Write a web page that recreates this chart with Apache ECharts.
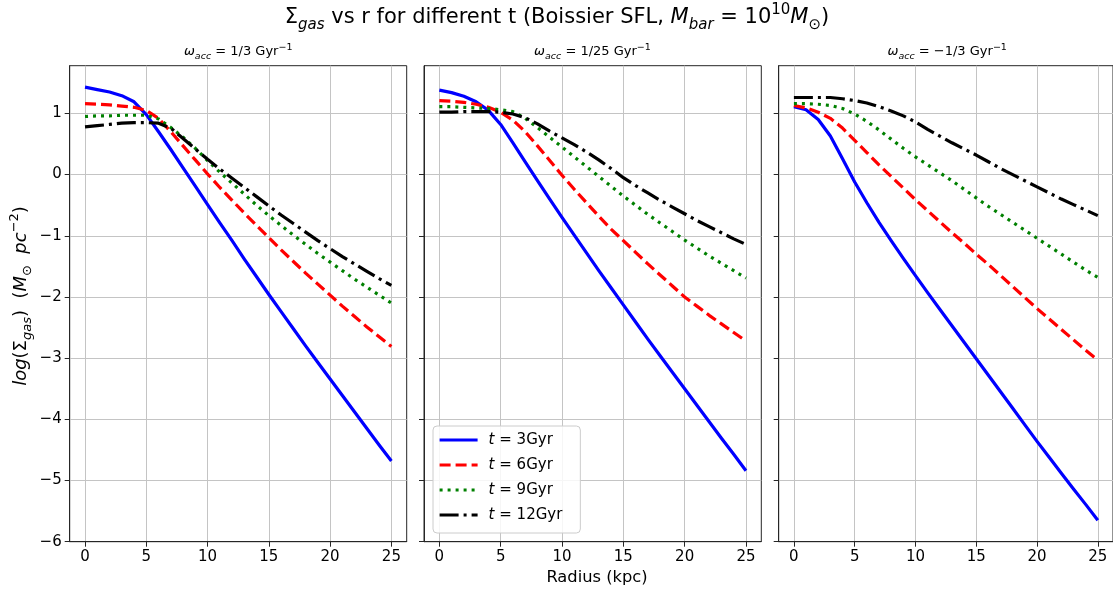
<!DOCTYPE html>
<html><head><meta charset="utf-8">
<script src="https://cdn.jsdelivr.net/npm/echarts@6/dist/echarts.min.js"></script>
<style>html,body{margin:0;padding:0;background:#fff}#c{width:1113px;height:593px}</style>
</head><body><div id="c"></div>
<script>
const radius = [0,1,2,3,4,5,6,7,8,9,10,11,12,13,14,15,16,17,18,19,20,21,22,23,24,25];
const xTicks = [0,5,10,15,20,25];
const yTicks = [-6,-5,-4,-3,-2,-1,0,1];
const seriesNames = ['t = 3Gyr','t = 6Gyr','t = 9Gyr','t = 12Gyr'];

// panel 1: omega_acc = 1/3 Gyr^-1
const p1_t3  = [1.43,1.39,1.35,1.29,1.19,0.98,0.70,0.41,0.11,-0.19,-0.49,-0.79,-1.08,-1.38,-1.67,-1.96,-2.24,-2.52,-2.80,-3.07,-3.34,-3.61,-3.88,-4.15,-4.42,-4.68];
const p1_t6  = [1.16,1.15,1.14,1.12,1.10,1.05,0.92,0.70,0.47,0.24,0.01,-0.21,-0.42,-0.63,-0.83,-1.03,-1.23,-1.42,-1.61,-1.79,-1.97,-2.15,-2.32,-2.49,-2.65,-2.81];
const p1_t9  = [0.95,0.96,0.96,0.97,0.97,0.97,0.91,0.77,0.61,0.43,0.23,0.04,-0.14,-0.32,-0.50,-0.67,-0.83,-0.99,-1.14,-1.29,-1.43,-1.57,-1.71,-1.84,-1.97,-2.10];
const p1_t12 = [0.78,0.80,0.82,0.84,0.85,0.85,0.84,0.76,0.59,0.42,0.25,0.09,-0.06,-0.21,-0.36,-0.51,-0.66,-0.80,-0.94,-1.08,-1.21,-1.34,-1.46,-1.58,-1.70,-1.81];

// panel 2: omega_acc = 1/25 Gyr^-1
const p2_t3  = [1.38,1.34,1.28,1.19,1.05,0.82,0.52,0.21,-0.10,-0.40,-0.70,-0.99,-1.28,-1.57,-1.85,-2.13,-2.41,-2.69,-2.96,-3.23,-3.50,-3.77,-4.04,-4.31,-4.57,-4.84];
const p2_t6  = [1.21,1.20,1.18,1.15,1.10,1.02,0.89,0.70,0.47,0.23,-0.01,-0.24,-0.46,-0.68,-0.89,-1.08,-1.27,-1.46,-1.64,-1.82,-2.00,-2.15,-2.30,-2.44,-2.58,-2.72];
const p2_t9  = [1.11,1.11,1.10,1.09,1.08,1.06,1.03,0.92,0.77,0.61,0.45,0.29,0.13,-0.03,-0.19,-0.35,-0.50,-0.65,-0.79,-0.93,-1.07,-1.20,-1.33,-1.45,-1.57,-1.69];
const p2_t12 = [1.02,1.02,1.03,1.03,1.03,1.02,0.99,0.93,0.83,0.71,0.60,0.49,0.37,0.24,0.10,-0.05,-0.18,-0.30,-0.42,-0.53,-0.64,-0.75,-0.85,-0.95,-1.05,-1.14];

// panel 3: omega_acc = -1/3 Gyr^-1
const p3_t3  = [1.11,1.06,0.90,0.63,0.26,-0.12,-0.46,-0.78,-1.08,-1.37,-1.65,-1.93,-2.20,-2.47,-2.74,-3.01,-3.28,-3.55,-3.82,-4.09,-4.36,-4.62,-4.88,-5.14,-5.39,-5.65];
const p3_t6  = [1.13,1.09,1.02,0.92,0.76,0.56,0.36,0.16,-0.03,-0.22,-0.41,-0.59,-0.77,-0.95,-1.12,-1.30,-1.47,-1.65,-1.83,-2.01,-2.19,-2.36,-2.53,-2.70,-2.87,-3.03];
const p3_t9  = [1.16,1.16,1.15,1.13,1.08,0.99,0.87,0.73,0.58,0.43,0.29,0.16,0.03,-0.10,-0.24,-0.38,-0.52,-0.65,-0.78,-0.91,-1.04,-1.17,-1.30,-1.43,-1.56,-1.68];
const p3_t12 = [1.26,1.26,1.26,1.26,1.24,1.21,1.17,1.11,1.04,0.96,0.86,0.74,0.63,0.52,0.42,0.32,0.21,0.10,0.00,-0.10,-0.20,-0.30,-0.40,-0.49,-0.58,-0.67];

const panels = [
  [p1_t3, p1_t6, p1_t9, p1_t12],
  [p2_t3, p2_t6, p2_t9, p2_t12],
  [p3_t3, p3_t6, p3_t9, p3_t12]
];
const panelTitles = [
  '{iw|ω}{isub|acc} = 1/3 Gyr{sup|−1}',
  '{iw|ω}{isub|acc} = 1/25 Gyr{sup|−1}',
  '{iw|ω}{isub|acc} = −1/3 Gyr{sup|−1}'
];

const FONT = 'DejaVu Sans';
const colors = ['#0000ff','#ff0000','#008000','#000000'];
const dashes = ['solid',[11,5],[3,5],[19,5,3,5]];
const gridBox = [
  {left:69.7, width:337},
  {left:424, width:337.3},
  {left:778.7, width:337}
];
const fmt = v => String(v).replace('-', '\u2212');

const grids = [], xAxes = [], yAxes = [], series = [];
gridBox.forEach((g, i) => {
  grids.push({left:g.left, width:g.width, top:65.7, height:476, show:true,
    borderColor:'#262626', borderWidth:1, backgroundColor:'transparent', containLabel:false});
  xAxes.push({type:'value', gridIndex:i, min:-1.25, max:26.25,
    axisLine:{show:true, onZero:false, lineStyle:{color:'#262626', width:1}},
    axisTick:{show:true, inside:false, length:5, customValues:xTicks, lineStyle:{color:'#262626', width:1}},
    axisLabel:{show:true, customValues:xTicks, fontSize:15, fontFamily:FONT, color:'#000', margin:8, formatter:fmt},
    splitLine:{show:true, lineStyle:{color:'#c4c4c4', width:1}}});
  yAxes.push({type:'value', gridIndex:i, min:-6, max:1.78,
    axisLine:{show:true, onZero:false, lineStyle:{color:'#262626', width:1}},
    axisTick:{show:true, inside:false, length:5, customValues:yTicks, lineStyle:{color:'#262626', width:1}},
    axisLabel:{show:i===0, customValues:yTicks, fontSize:15, fontFamily:FONT, color:'#000', margin:8, formatter:fmt},
    splitLine:{show:true, lineStyle:{color:'#c4c4c4', width:1}}});
  panels[i].forEach((vals, k) => {
    series.push({type:'line', name:seriesNames[k], xAxisIndex:i, yAxisIndex:i,
      data: radius.map((r, j) => [r, vals[j]]),
      showSymbol:false, symbol:'none', smooth:false,
      lineStyle:{color:colors[k], width:3.2, type:dashes[k], cap:'butt', join:'round'},
      itemStyle:{color:colors[k]}, z:3+k, animation:false});
  });
});

const base = {fontFamily:FONT, fill:'#000'};
const graphic = [
  {type:'text', x:557, y:18, style:Object.assign({}, base, {
    text:'Σ{isubL|gas} vs r for different t (Boissier SFL, {i|M}{isubL|bar} = 10{supL|10}{i|M}{subL|⊙})',
    fontSize:21, lineHeight:30, textAlign:'center', textVerticalAlign:'middle',
    rich:{
      i:{fontStyle:'italic', fontSize:21, fontFamily:FONT, lineHeight:30},
      isubL:{fontStyle:'italic', fontSize:15, fontFamily:FONT, lineHeight:15, verticalAlign:'bottom'},
      subL:{fontSize:15, fontFamily:FONT, lineHeight:15, verticalAlign:'bottom'},
      supL:{fontSize:15, fontFamily:FONT, lineHeight:15, verticalAlign:'top'}
    }})},
  {type:'text', x:597, y:578, style:Object.assign({}, base, {text:'Radius (kpc)', fontSize:16.3, textAlign:'center', textVerticalAlign:'middle'})},
  {type:'text', x:21, y:296, rotation:Math.PI/2, style:Object.assign({}, base, {
    text:'{i|log}(Σ{isub|gas})  ({i|M}{sub|⊙}  {i|pc}{sup|−2})',
    fontSize:18, lineHeight:26, textAlign:'center', textVerticalAlign:'middle',
    rich:{
      i:{fontStyle:'italic', fontSize:18, fontFamily:FONT, lineHeight:26},
      isub:{fontStyle:'italic', fontSize:13, fontFamily:FONT, lineHeight:13, verticalAlign:'bottom'},
      sub:{fontSize:13, fontFamily:FONT, lineHeight:13, verticalAlign:'bottom'},
      sup:{fontSize:13, fontFamily:FONT, lineHeight:13, verticalAlign:'top'}
    }})}
];
gridBox.forEach((g, i) => {
  graphic.push({type:'text', x:g.left + 168.5, y:52, style:Object.assign({}, base, {
    text:panelTitles[i], fontSize:13, lineHeight:19, textAlign:'center', textVerticalAlign:'middle',
    rich:{
      iw:{fontStyle:'italic', fontSize:13, fontFamily:FONT, lineHeight:19},
      isub:{fontStyle:'italic', fontSize:9.5, fontFamily:FONT, lineHeight:9.5, verticalAlign:'bottom'},
      sup:{fontSize:9.5, fontFamily:FONT, lineHeight:9.5, verticalAlign:'top'}
    }})});
});

const chart = echarts.init(document.getElementById('c'), null, {renderer:'canvas'});
chart.setOption({
  animation:false,
  backgroundColor:'#fff',
  grid:grids, xAxis:xAxes, yAxis:yAxes, series:series,
  legend:{data:seriesNames, orient:'vertical', left:433, top:426,
    padding:[6,18,10,5], itemGap:9, itemWidth:38, itemHeight:14,
    backgroundColor:'rgba(255,255,255,0.85)', borderColor:'#cccccc', borderWidth:1, borderRadius:4,
    itemStyle:{color:'rgba(0,0,0,0)', borderWidth:0, opacity:0},
    lineStyle:{width:3.2},
    textStyle:{fontSize:15, fontFamily:FONT, color:'#000', lineHeight:16,
      rich:{i:{fontStyle:'italic', fontSize:15, fontFamily:FONT, padding:[0,0,0,6], lineHeight:16}}},
    formatter: n => '{i|t}' + n.slice(1),
    selectedMode:false},
  graphic:graphic
});
</script></body></html>
